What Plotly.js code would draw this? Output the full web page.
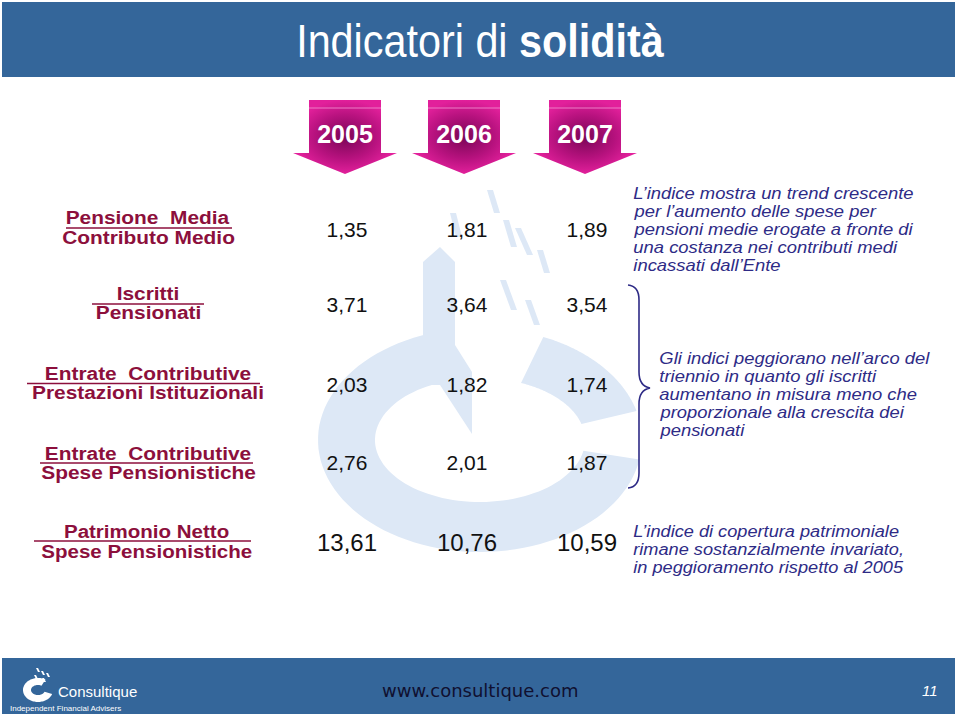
<!DOCTYPE html>
<html>
<head>
<meta charset="utf-8">
<script src="https://cdn.plot.ly/plotly-3.0.1.min.js"></script>
<style>html,body{margin:0;padding:0;background:#fff;}#chart{width:960px;height:720px;}</style>
</head>
<body>
<div id="chart"></div>
<script>
// ---- data ----
const years = ['2005', '2006', '2007'];
const numerators = ['Pensione\u00A0\u00A0Media', 'Iscritti', 'Entrate\u00A0\u00A0Contributive', 'Entrate\u00A0\u00A0Contributive', 'Patrimonio Netto'];
const denominators = ['Contributo Medio', 'Pensionati', 'Prestazioni Istituzionali', 'Spese Pensionistiche', 'Spese Pensionistiche'];
const values2005 = [1.35, 3.71, 2.03, 2.76, 13.61];
const values2006 = [1.81, 3.64, 1.82, 2.01, 10.76];
const values2007 = [1.89, 3.54, 1.74, 1.87, 10.59];
const comment1 = ['L\u2019indice mostra un trend crescente', 'per l\u2019aumento delle spese per', 'pensioni medie erogate a fronte di', 'una costanza nei contributi medi', 'incassati dall\u2019Ente'];
const comment2 = ['Gli indici peggiorano nell\u2019arco del', 'triennio in quanto gli iscritti', 'aumentano in misura meno che', 'proporzionale alla crescita dei', 'pensionati'];
const comment3 = ['L\u2019indice di copertura patrimoniale', 'rimane sostanzialmente invariato,', 'in peggioramento rispetto al 2005'];
const titleText = 'Indicatori di <b>solidit\u00E0</b>';
const footerUrl = 'www.consultique.com';
const pageNumber = '11';

// ---- layout constants ----
const colX = [347, 467, 587];
const rowY = [232, 307, 387, 465, 545];
const arrowX = [345, 464, 585];
const numY = [218, 294, 374, 454, 531];
const denY = [238, 313, 393, 473, 551];
const barY = [228, 304, 383.5, 463, 541];
const barX = [[66, 232], [92, 204], [27, 260], [40, 253], [34, 251]];
const labelX = [148, 148, 148, 148, 146];

const SANS = 'Arial, "Liberation Sans", sans-serif';
const CRIMSON = '#8c0f3c';
const NAVY = '#2e2b86';
const BAND = '#34669a';
const WM = '#dde8f6';

function fmt(v) { return v.toFixed(2).replace('.', ','); }

function ring(cx, cy, rxo, ryo, rxi, ryi, a0, a1) {
  const n = 80, pts = [];
  for (let i = 0; i <= n; i++) { const a = (a0 + (a1 - a0) * i / n) * Math.PI / 180; pts.push([cx + rxo * Math.cos(a), cy + ryo * Math.sin(a)]); }
  for (let i = n; i >= 0; i--) { const a = (a0 + (a1 - a0) * i / n) * Math.PI / 180; pts.push([cx + rxi * Math.cos(a), cy + ryi * Math.sin(a)]); }
  return 'M' + pts.map(p => p[0].toFixed(1) + ',' + p[1].toFixed(1)).join(' L') + ' Z';
}
function poly(pts) { return 'M' + pts.map(p => p[0] + ',' + p[1]).join(' L') + ' Z'; }

const shapes = [];
shapes.push({type: 'rect', xref: 'x', yref: 'y', x0: 2, x1: 955, y0: 2, y1: 77, fillcolor: BAND, line: {width: 0}, layer: 'below'});
shapes.push({type: 'rect', xref: 'x', yref: 'y', x0: 2, x1: 955, y0: 658, y1: 714, fillcolor: BAND, line: {width: 0}, layer: 'below'});
// watermark logo
shapes.push({type: 'path', xref: 'x', yref: 'y', path: ring(480, 440, 162, 112, 105, 62, 10, 255), fillcolor: WM, line: {width: 0}, layer: 'below'});
shapes.push({type: 'path', xref: 'x', yref: 'y', path: ring(480, 440, 162, 112, 105, 62, 293, 345), fillcolor: WM, line: {width: 0}, layer: 'below'});
shapes.push({type: 'path', xref: 'x', yref: 'y', path: poly([[423, 262], [440, 247], [455, 262], [455, 345], [472, 372], [472, 434], [440, 385], [423, 385]]), fillcolor: WM, line: {width: 0}, layer: 'below'});
[[487, 190, 500, 213], [450, 213, 462, 237], [503, 220, 517, 247], [515, 228, 533, 255], [537, 250, 550, 273], [500, 280, 517, 310], [525, 300, 540, 325]].forEach(r => {
  shapes.push({type: 'path', xref: 'x', yref: 'y', path: poly([[r[0], r[1]], [r[0] + 6, r[1]], [r[2], r[3]], [r[2] - 6, r[3]]]), fillcolor: WM, line: {width: 0}, layer: 'below'});
});
// footer mini logo
shapes.push({type: 'path', xref: 'x', yref: 'y', path: ring(38, 690, 15, 12, 7, 5, 20, 300), fillcolor: '#ffffff', line: {width: 0}, layer: 'above'});
[[36, 668], [41, 671], [46, 673], [34, 675], [42, 678]].forEach(p => {
  shapes.push({type: 'path', xref: 'x', yref: 'y', path: poly([[p[0], p[1]], [p[0] + 2, p[1]], [p[0] + 4, p[1] + 4], [p[0] + 2, p[1] + 4]]), fillcolor: '#ffffff', line: {width: 0}, layer: 'above'});
});
// fraction bars
barY.forEach((y, i) => shapes.push({type: 'line', xref: 'x', yref: 'y', x0: barX[i][0], x1: barX[i][1], y0: y, y1: y, line: {color: CRIMSON, width: 1.5}}));
// brace
shapes.push({type: 'path', xref: 'x', yref: 'y', path: 'M628,285 Q639,286 639,300 L639,372 Q639,386 650,388 Q639,390 639,404 L639,473 Q639,487 628,488', line: {color: NAVY, width: 1.6}, fillcolor: 'rgba(0,0,0,0)'});
arrowX.forEach(cx => {
  shapes.push({type: 'line', xref: 'x', yref: 'y', x0: cx - 36, x1: cx + 36, y0: 108, y1: 108, line: {color: '#ee7cc6', width: 1.2}});
});

const traces = [];
arrowX.forEach(cx => {
  const p = [[cx - 36, 100], [cx + 36, 100], [cx + 36, 153], [cx + 52, 153], [cx, 174], [cx - 52, 153], [cx - 36, 153], [cx - 36, 100]];
  traces.push({type: 'scatter', mode: 'lines', x: p.map(q => q[0]), y: p.map(q => q[1]), fill: 'toself',
    fillgradient: {type: 'radial', colorscale: [[0, '#7a0656'], [0.6, '#b8127f'], [1, '#e2209b']]},
    line: {width: 0, color: '#d81b94'}, hoverinfo: 'skip', showlegend: false});
});
traces.push({type: 'scatter', mode: 'text', x: arrowX, y: years.map(() => 137), text: years,
  textfont: {family: SANS, size: 25, color: '#ffffff', weight: 'bold'}, hoverinfo: 'skip', showlegend: false});
[values2005, values2006, values2007].forEach((vals, i) => {
  traces.push({type: 'scatter', mode: 'text', x: vals.map(() => colX[i]), y: rowY, text: vals.map(fmt),
    textfont: {family: SANS, size: vals.map((v, j) => j === 4 ? 24 : 21), color: '#111111'},
    hoverinfo: 'skip', showlegend: false});
});

const annotations = [];
const stretch = [];
function addAnn(a, s) { annotations.push(Object.assign({xref: 'x', yref: 'y', showarrow: false, yanchor: 'middle'}, a)); stretch.push(s || 1); }

addAnn({x: 480, y: 40, text: titleText, xanchor: 'center', font: {family: SANS, size: 47, color: '#ffffff'}}, 0.88);
numerators.forEach((t, i) => {
  const f = i === 4 ? {family: SANS, size: 19, color: CRIMSON} : {family: SANS, size: 18, color: CRIMSON};
  const s = i === 4 ? 1.08 : 1.16;
  addAnn({x: labelX[i], y: numY[i], text: '<b>' + t + '</b>', xanchor: 'center', font: f}, s);
  addAnn({x: labelX[i], y: denY[i], text: '<b>' + denominators[i] + '</b>', xanchor: 'center', font: f}, s);
});
comment1.forEach((t, i) => addAnn({x: 631, y: 193 + i * 18, text: '<i>' + t + '</i>', xanchor: 'left', font: {family: SANS, size: 16, color: NAVY}}, 1.15));
comment2.forEach((t, i) => addAnn({x: 657, y: 358 + i * 18, text: '<i>' + t + '</i>', xanchor: 'left', font: {family: SANS, size: 16, color: NAVY}}, 1.15));
comment3.forEach((t, i) => addAnn({x: 631, y: 531 + i * 18, text: '<i>' + t + '</i>', xanchor: 'left', font: {family: SANS, size: 17, color: NAVY}}, 1.07));
addAnn({x: 480, y: 690, text: footerUrl, xanchor: 'center', font: {family: '"DejaVu Sans", Verdana, sans-serif', size: 18, color: '#101030'}});
addAnn({x: 940, y: 690, text: '<i>' + pageNumber + '</i>', xanchor: 'right', font: {family: SANS, size: 15, color: '#ffffff'}});
addAnn({x: 56, y: 691, text: 'Consultique', xanchor: 'left', font: {family: SANS, size: 15, color: '#ffffff'}});
addAnn({x: 8, y: 708, text: 'Independent Financial Advisers', xanchor: 'left', font: {family: SANS, size: 8, color: '#ffffff'}});

const layout = {
  width: 960, height: 720, margin: {l: 0, r: 0, t: 0, b: 0, pad: 0},
  paper_bgcolor: '#ffffff', plot_bgcolor: '#ffffff', showlegend: false, hovermode: false,
  xaxis: {range: [0, 960], visible: false, fixedrange: true},
  yaxis: {range: [720, 0], visible: false, fixedrange: true},
  shapes: shapes, annotations: annotations
};
Plotly.newPlot('chart', traces, layout, {displayModeBar: false, staticPlot: true}).then(gd => {
  annotations.forEach((a, i) => {
    const s = stretch[i];
    if (s === 1) return;
    const g = gd.querySelector('g.annotation[data-index="' + i + '"]');
    if (g) g.setAttribute('transform', 'translate(' + a.x + ',0) scale(' + s + ',1) translate(' + (-a.x) + ',0)');
  });
});
</script>
</body>
</html>
